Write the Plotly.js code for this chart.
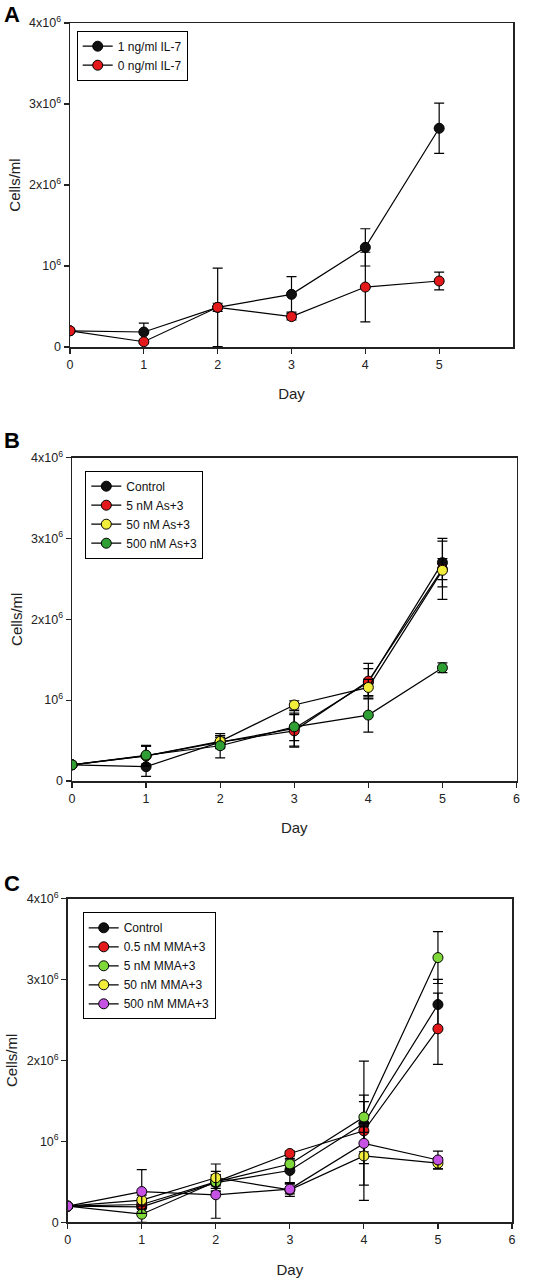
<!DOCTYPE html>
<html>
<head>
<meta charset="utf-8">
<script src="https://cdn.plot.ly/plotly-3.0.1.min.js"></script>
<style>html,body{margin:0;padding:0;background:#fff;}#chart{width:543px;height:1280px;}</style>
</head>
<body>
<div id="chart"></div>
<script>
// ---- data ----
const days = [0, 1, 2, 3, 4, 5];

// Panel A
const namesA = ["1 ng/ml IL-7", "0 ng/ml IL-7"];
const il7_1 = [0.2e6, 0.185e6, 0.49e6, 0.65e6, 1.23e6, 2.7e6];
const il7_1_err = [0.01e6, 0.11e6, 0.05e6, 0.22e6, 0.23e6, 0.31e6];
const il7_0 = [0.2e6, 0.065e6, 0.49e6, 0.375e6, 0.74e6, 0.815e6];
const il7_0_err = [0.01e6, 0.02e6, 0.485e6, 0.04e6, 0.43e6, 0.11e6];

// Panel B
const namesB = ["Control", "5 nM As+3", "50 nM As+3", "500 nM As+3"];
const ctrlB = [0.2e6, 0.177e6, 0.48e6, 0.65e6, 1.22e6, 2.7e6];
const ctrlB_err = [0.01e6, 0.12e6, 0.08e6, 0.22e6, 0.17e6, 0.3e6];
const as5 = [0.2e6, 0.31e6, 0.48e6, 0.62e6, 1.235e6, 2.62e6];
const as5_err = [0.01e6, 0.13e6, 0.06e6, 0.2e6, 0.22e6, 0.13e6];
const as50 = [0.2e6, 0.31e6, 0.49e6, 0.94e6, 1.157e6, 2.605e6];
const as50_err = [0.01e6, 0.12e6, 0.07e6, 0.05e6, 0.1e6, 0.36e6];
const as500 = [0.2e6, 0.32e6, 0.436e6, 0.67e6, 0.815e6, 1.40e6];
const as500_err = [0.01e6, 0.11e6, 0.15e6, 0.17e6, 0.21e6, 0.06e6];

// Panel C
const namesC = ["Control", "0.5 nM MMA+3", "5 nM MMA+3", "50 nM MMA+3", "500 nM MMA+3"];
const ctrlC = [0.2e6, 0.19e6, 0.49e6, 0.64e6, 1.22e6, 2.69e6];
const ctrlC_err = [0.01e6, 0.06e6, 0.1e6, 0.15e6, 0.35e6, 0.31e6];
const mma05 = [0.2e6, 0.22e6, 0.5e6, 0.85e6, 1.13e6, 2.39e6];
const mma05_err = [0.01e6, 0.05e6, 0.05e6, 0.03e6, 0.86e6, 0.44e6];
const mma5 = [0.2e6, 0.10e6, 0.50e6, 0.72e6, 1.30e6, 3.27e6];
const mma5_err = [0.01e6, 0.1e6, 0.08e6, 0.05e6, 0.19e6, 0.32e6];
const mma50 = [0.2e6, 0.275e6, 0.55e6, 0.40e6, 0.82e6, 0.73e6];
const mma50_err = [0.01e6, 0.06e6, 0.17e6, 0.08e6, 0.36e6, 0.07e6];
const mma500 = [0.2e6, 0.38e6, 0.34e6, 0.41e6, 0.975e6, 0.77e6];
const mma500_err = [0.01e6, 0.27e6, 0.29e6, 0.06e6, 0.25e6, 0.11e6];

// tick labels
const yTickVals = [0, 1e6, 2e6, 3e6, 4e6];
const yTickText = ["0", "10<sup>6</sup>", "2x10<sup>6</sup>", "3x10<sup>6</sup>", "4x10<sup>6</sup>"];
const xTicksA = [0, 1, 2, 3, 4, 5];
const xTicksBC = [0, 1, 2, 3, 4, 5, 6];

// ---- styles ----
const COL = {black: "#111111", red: "#e3191c", yellow: "#f2ec3a", greenB: "#2f9e33", greenC: "#7fd83a", purple: "#c552e3"};
const W = 543, H = 1280;

function tr(name, y, err, color, xa, ya, leg) {
  return {
    x: days, y: y, name: name, type: "scatter", mode: "lines+markers",
    xaxis: xa, yaxis: ya, legend: leg,
    line: {color: "#000", width: 1.2},
    marker: {symbol: "circle", size: 10, color: color, line: {color: "#000", width: 1}},
    error_y: {type: "data", array: err, visible: true, color: "#000", thickness: 1.2, width: 5}
  };
}

const data = [
  tr(namesA[0], il7_1, il7_1_err, COL.black, "x", "y", "legend"),
  tr(namesA[1], il7_0, il7_0_err, COL.red, "x", "y", "legend"),
  tr(namesB[0], ctrlB, ctrlB_err, COL.black, "x2", "y2", "legend2"),
  tr(namesB[1], as5, as5_err, COL.red, "x2", "y2", "legend2"),
  tr(namesB[2], as50, as50_err, COL.yellow, "x2", "y2", "legend2"),
  tr(namesB[3], as500, as500_err, COL.greenB, "x2", "y2", "legend2"),
  tr(namesC[0], ctrlC, ctrlC_err, COL.black, "x3", "y3", "legend3"),
  tr(namesC[1], mma05, mma05_err, COL.red, "x3", "y3", "legend3"),
  tr(namesC[2], mma5, mma5_err, COL.greenC, "x3", "y3", "legend3"),
  tr(namesC[3], mma50, mma50_err, COL.yellow, "x3", "y3", "legend3"),
  tr(namesC[4], mma500, mma500_err, COL.purple, "x3", "y3", "legend3")
];

const FONT = "Liberation Sans, Arial, sans-serif";
function xax(x0, x1, anchor, ticks) {
  return {
    domain: [x0 / W, x1 / W], anchor: anchor, range: [0, 6],
    tickvals: ticks, ticktext: ticks.map(String),
    ticks: "outside", ticklen: 5, tickwidth: 1.2, tickcolor: "#222",
    showline: true, linecolor: "#222", linewidth: 1.5, mirror: true,
    showgrid: false, zeroline: false,
    tickfont: {family: FONT, size: 12.5, color: "#222"},
    title: {text: "Day", font: {family: FONT, size: 15, color: "#222"}, standoff: 18}
  };
}
function yax(top, bottom, anchor) {
  return {
    domain: [1 - bottom / H, 1 - top / H], anchor: anchor, range: [0, 4e6],
    tickvals: yTickVals, ticktext: yTickText,
    ticks: "outside", ticklen: 5, tickwidth: 1.2, tickcolor: "#222",
    showline: true, linecolor: "#222", linewidth: 1.5, mirror: true,
    showgrid: false, zeroline: false,
    tickfont: {family: FONT, size: 12.5, color: "#222"},
    title: {text: "Cells/ml", font: {family: FONT, size: 15, color: "#222"}, standoff: 5}
  };
}
function leg(x, y) {
  return {
    x: x / W, y: 1 - y / H, xanchor: "left", yanchor: "top",
    bordercolor: "#000", borderwidth: 1, bgcolor: "#fff",
    font: {family: FONT, size: 12, color: "#111"}, tracegroupgap: 0
  };
}
function letter(t, x, y) {
  return {text: "<b>" + t + "</b>", x: x / W, y: 1 - y / H, xref: "paper", yref: "paper",
    xanchor: "center", yanchor: "middle", showarrow: false,
    font: {family: FONT, size: 22, color: "#000"}};
}

const layout = {
  width: W, height: H, margin: {l: 0, r: 0, t: 0, b: 0},
  paper_bgcolor: "#fff", plot_bgcolor: "#fff", showlegend: true,
  font: {family: FONT, color: "#222"},
  xaxis: xax(70, 513, "y", xTicksA),
  yaxis: yax(23, 347, "x"),
  xaxis2: xax(72, 516.5, "y2", xTicksBC),
  yaxis2: yax(457.5, 781, "x2"),
  xaxis3: xax(67.7, 512, "y3", xTicksBC),
  yaxis3: yax(898.5, 1222.3, "x3"),
  legend: leg(76.7, 30.7),
  legend2: leg(85.3, 470.7),
  legend3: leg(82.7, 912.3),
  annotations: [letter("A", 12, 14), letter("B", 11.5, 441), letter("C", 12, 883)]
};

Plotly.newPlot("chart", data, layout, {staticPlot: true, displayModeBar: false});
</script>
</body>
</html>
